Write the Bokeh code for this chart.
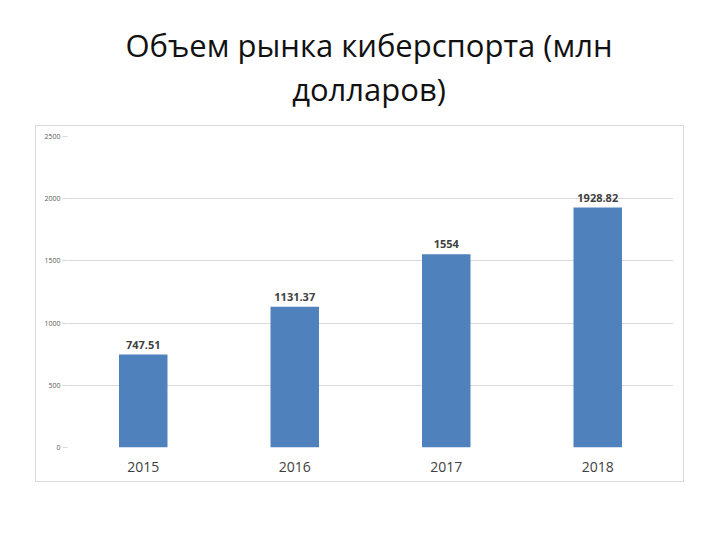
from bokeh.plotting import figure
from bokeh.layouts import column
from bokeh.models import ColumnDataSource, FactorRange, Range1d, FixedTicker, Title
from bokeh.core.properties import value
from bokeh.embed import file_html
from bokeh.resources import INLINE

years = ["2015", "2016", "2017", "2018"]
market = [747.51, 1131.37, 1554, 1928.82]
labels = ["747.51", "1131.37", "1554", "1928.82"]
y_ticks = [0, 500, 1000, 1500, 2000, 2500]
title_line1 = "Объем рынка киберспорта (млн"
title_line2 = "долларов)"

# ---- title figure ----
tfig = figure(width=720, frame_height=10, min_border_left=0, min_border_right=14,
              min_border_top=115, min_border_bottom=0,
              output_backend="svg", toolbar_location=None, title=None)
tfig.axis.visible = False
tfig.grid.visible = False
tfig.outline_line_color = None
tfig.add_layout(Title(text=title_line2, align="center", standoff=12,
                      text_font="Open Sans", text_font_size="31px", text_font_style="normal",
                      text_color="#111111"), "above")
tfig.add_layout(Title(text=title_line1, align="center", standoff=-12,
                      text_font="Open Sans", text_font_size="31px", text_font_style="normal",
                      text_color="#111111"), "above")

# ---- chart figure ----
src = ColumnDataSource(dict(year=years, val=market, lab=labels))

p = figure(x_range=FactorRange(*years, range_padding=0), y_range=Range1d(0, 2500),
           frame_width=604, frame_height=309,
           min_border_left=31, min_border_right=12, min_border_top=10, min_border_bottom=36,
           output_backend="svg", toolbar_location=None, title=None)
p.outline_line_color = None
p.background_fill_color = "white"
p.border_fill_color = "white"
p.styles = {"border": "1px solid #d9d9d9"}
p.margin = (0, 0, 0, 35)

p.vbar(x="year", top="val", width=0.32, source=src, fill_color="#4f81bd", line_color=None)
p.text(x="year", y="val", text="lab", source=src, y_offset=-6,
       text_align="center", text_baseline="bottom", text_font=value("Open Sans"),
       text_font_size="11px", text_font_style="bold", text_color="#404040")

p.xgrid.grid_line_color = None
p.ygrid.grid_line_color = "#d9d9d9"
p.ygrid.grid_line_width = 1

p.yaxis.ticker = FixedTicker(ticks=y_ticks)
p.yaxis.axis_line_color = None
p.yaxis.major_tick_line_color = "#d9d9d9"
p.yaxis.major_tick_out = 5
p.yaxis.major_tick_in = 0
p.yaxis.minor_tick_line_color = None
p.yaxis.major_label_text_font_size = "7px"
p.yaxis.major_label_text_color = "#595959"
p.yaxis.major_label_text_font = "Open Sans"
p.yaxis.major_label_standoff = 2

p.xaxis.axis_line_color = None
p.xaxis.major_tick_line_color = None
p.xaxis.minor_tick_line_color = None
p.xaxis.major_label_text_font_size = "14px"
p.xaxis.major_label_text_color = "#404040"
p.xaxis.major_label_text_font = "Open Sans"
p.xaxis.major_label_standoff = 8

layout = column(tfig, p, spacing=0)
open("out.html", "w").write(file_html(layout, INLINE))
